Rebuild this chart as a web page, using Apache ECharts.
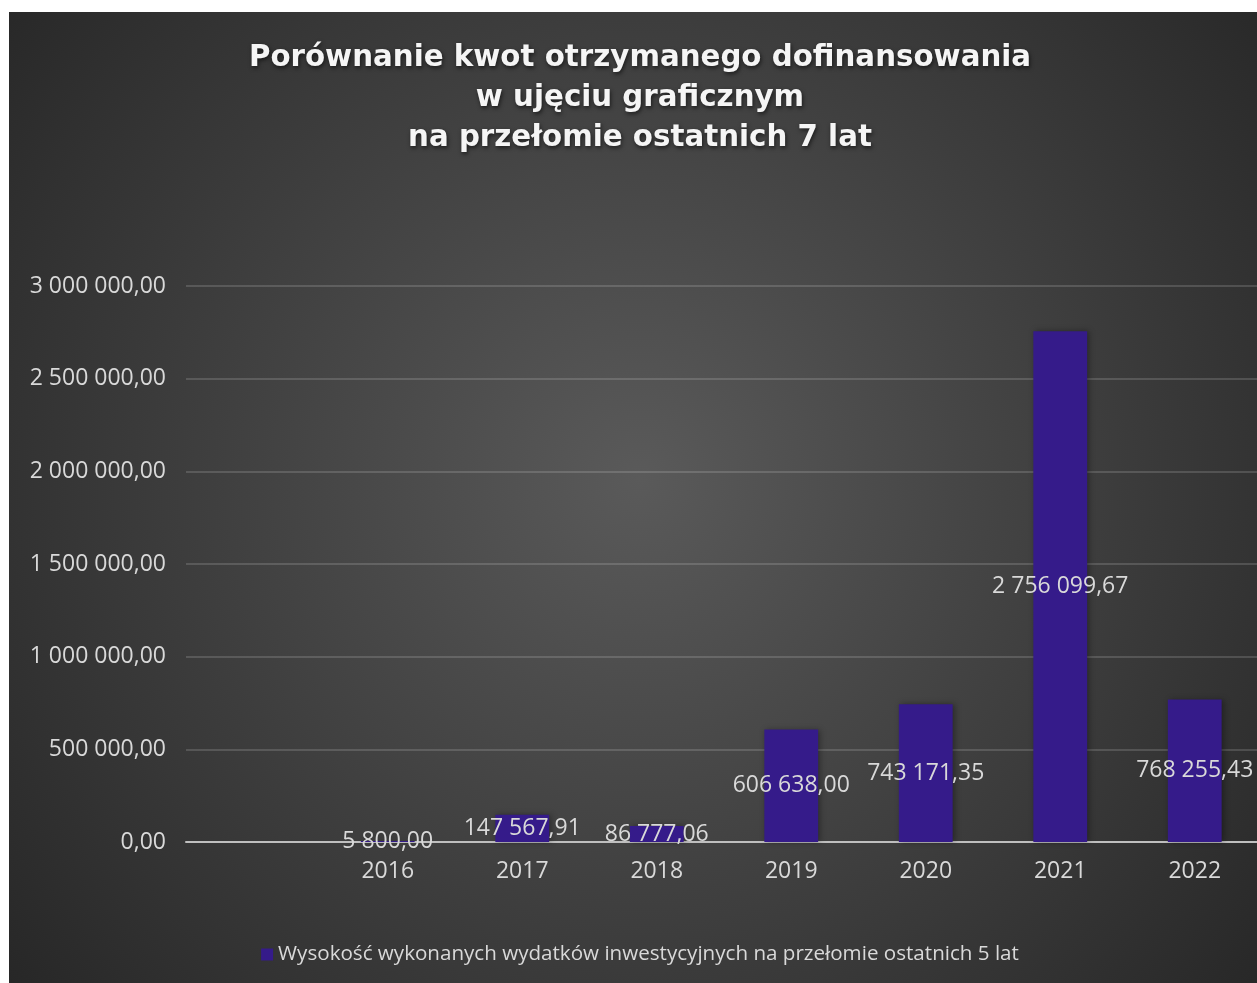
<!DOCTYPE html>
<html>
<head>
<meta charset="utf-8">
<script src="https://cdn.jsdelivr.net/npm/echarts@6/dist/echarts.min.js"></script>
<style>
    html, body { margin: 0; padding: 0; background: #fff; overflow: hidden; width: 1257px; height: 983px; }
    #chart { position: absolute; left: 9px; top: 12px; width: 1262px; height: 971px; }
</style>
</head>
<body>
<div id="chart"></div>
<script>
    // dane
    const years = ['', '2016', '2017', '2018', '2019', '2020', '2021', '2022'];
    const amounts = ['-', 5800.00, 147567.91, 86777.06, 606638.00, 743171.35, 2756099.67, 768255.43];
    const seriesName = 'Wysokość wykonanych wydatków inwestycyjnych na przełomie ostatnich 5 lat';
    const titleText = 'Porównanie kwot otrzymanego dofinansowania\nw ujęciu graficznym\nna przełomie ostatnich 7 lat';

    function fmt(v) {
        let parts = Number(v).toFixed(2).split('.');
        return parts[0].replace(/\B(?=(\d{3})+(?!\d))/g, ' ') + ',' + parts[1];
    }

    const textColor = '#d9d9d9';
    const labelFont = 'Open Sans';

    let myChart = echarts.init(document.getElementById('chart'));
    let option = {
        animation: false,
        backgroundColor: {
            type: 'radial',
            x: 0.5, y: 0.48, r: 0.85,
            colorStops: [
                {offset: 0, color: '#5a5a5a'},
                {offset: 1, color: '#262626'}
            ]
        },
        title: {
            text: titleText,
            left: 'center',
            top: 21,
            textStyle: {
                fontFamily: 'DejaVu Sans',
                fontWeight: 'bold',
                fontSize: 29.3,
                lineHeight: 40,
                color: '#f5f5f5',
                textShadowColor: 'rgba(0,0,0,0.6)',
                textShadowBlur: 4,
                textShadowOffsetX: 1,
                textShadowOffsetY: 2
            }
        },
        legend: {
            data: [seriesName],
            bottom: 13,
            left: 'center',
            icon: 'rect',
            itemWidth: 12,
            itemHeight: 12,
            itemGap: 6,
            textStyle: {
                color: textColor,
                fontFamily: labelFont,
                fontSize: 20.6
            }
        },
        grid: {
            left: 177,
            right: 9,
            top: 274,
            height: 556,
            containLabel: false
        },
        xAxis: {
            type: 'category',
            data: years,
            axisLine: {lineStyle: {color: '#bfbfbf', width: 2}},
            axisTick: {show: false},
            axisLabel: {
                color: textColor,
                fontFamily: labelFont,
                fontSize: 23,
                margin: 18
            }
        },
        yAxis: {
            type: 'value',
            min: 0,
            max: 3000000,
            interval: 500000,
            axisLine: {show: false},
            axisTick: {show: false},
            splitLine: {lineStyle: {color: 'rgba(255,255,255,0.15)', width: 2}},
            axisLabel: {
                color: textColor,
                fontFamily: labelFont,
                fontSize: 23,
                margin: 20,
                formatter: fmt
            }
        },
        series: [{
            name: seriesName,
            type: 'bar',
            data: amounts,
            barWidth: '40%',
            itemStyle: {
                color: '#351b8a',
                shadowColor: 'rgba(0,0,0,0.35)',
                shadowBlur: 6,
                shadowOffsetX: 2
            },
            label: {
                show: true,
                position: 'inside',
                color: textColor,
                fontFamily: labelFont,
                fontSize: 23,
                formatter: function (p) { return fmt(p.value); }
            }
        }]
    };
    myChart.setOption(option, true);
    window.addEventListener('resize', () => { myChart.resize(); });
</script>
</body>
</html>
